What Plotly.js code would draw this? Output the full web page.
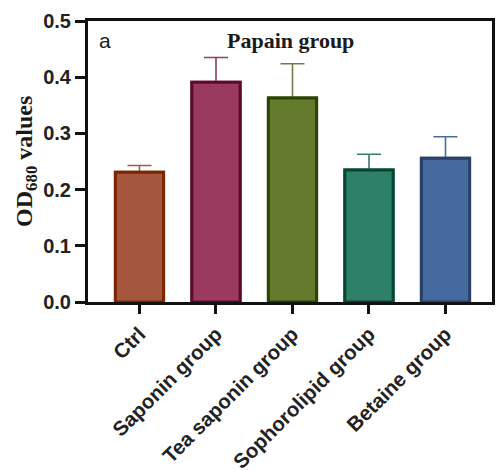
<!DOCTYPE html>
<html>
<head>
<meta charset="utf-8">
<script src="https://cdn.plot.ly/plotly-3.0.1.min.js"></script>
<style>html,body{margin:0;padding:0;background:#fff;}#chart{width:497px;height:471px;}</style>
</head>
<body>
<div id="chart"></div>
<script>
var categories = ["Ctrl", "Saponin group", "Tea saponin group", "Sophorolipid group", "Betaine group"];
var means = [0.231, 0.391, 0.363, 0.235, 0.256];
var errors = [0.012, 0.044, 0.061, 0.028, 0.038];
var fillColors = ["#A5573D", "#9B3A5F", "#647B2E", "#2E8068", "#456AA0"];
var lineColors = ["#7A2600", "#5C0A2E", "#2A4500", "#044733", "#2A4166"];
var errColors = ["#A0584A", "#8C4060", "#6D7D4A", "#3B7A6A", "#4A6C9A"];

var traces = [];
for (var i = 0; i < categories.length; i++) {
  traces.push({
    type: "bar",
    x: [categories[i]],
    y: [means[i]],
    width: 0.63,
    marker: {color: fillColors[i], line: {color: lineColors[i], width: 3}},
    error_y: {type: "data", symmetric: false, array: [errors[i]], arrayminus: [0], color: errColors[i], thickness: 1.6, width: 12},
    hoverinfo: "skip",
    showlegend: false
  });
}
traces.push({
  type: "bar",
  x: categories,
  y: means,
  width: 0.63,
  marker: {color: fillColors, line: {color: lineColors, width: 3}},
  hoverinfo: "skip",
  showlegend: false
});

var layout = {
  width: 497, height: 471,
  margin: {l: 88, r: 5, t: 21, b: 169},
  paper_bgcolor: "#fff", plot_bgcolor: "#fff",
  barmode: "overlay",
  showlegend: false,
  font: {family: "Liberation Sans, Arial, sans-serif", color: "#1a1a1a"},
  xaxis: {
    type: "category",
    categoryorder: "array", categoryarray: categories,
    range: [-0.673, 4.608],
    showline: true, linecolor: "#111", linewidth: 3, mirror: true,
    ticks: "outside", ticklen: 9, tickwidth: 3, tickcolor: "#111",
    tickangle: -45,
    tickfont: {size: 20.5, color: "#222", weight: "bold"},
    showgrid: false, zeroline: false, fixedrange: true
  },
  yaxis: {
    range: [0, 0.5],
    tickvals: [0, 0.1, 0.2, 0.3, 0.4, 0.5],
    ticktext: ["0.0", "0.1", "0.2", "0.3", "0.4", "0.5"],
    showline: true, linecolor: "#111", linewidth: 3, mirror: true,
    ticks: "outside", ticklen: 10, tickwidth: 3, tickcolor: "#111",
    tickfont: {size: 20, color: "#222", weight: "bold"},
    showgrid: false, zeroline: false, fixedrange: true
  },
  annotations: [
    {text: "OD<sub>680</sub> values", xref: "paper", yref: "paper", x: -0.155, y: 0.5,
     xanchor: "center", yanchor: "middle", textangle: -90, showarrow: false,
     font: {family: "Liberation Serif, Times New Roman, serif", size: 24, color: "#1a1a1a", weight: "bold"}},
    {text: "a", xref: "paper", yref: "paper", x: 0.022, y: 0.93,
     xanchor: "left", yanchor: "middle", showarrow: false,
     font: {size: 21, color: "#1a1a1a"}},
    {text: "<b>Papain group</b>", xref: "paper", yref: "paper", x: 0.502, y: 0.932,
     xanchor: "center", yanchor: "middle", showarrow: false,
     font: {family: "Liberation Serif, Times New Roman, serif", size: 22, color: "#1a1a1a"}}
  ]
};

Plotly.newPlot("chart", traces, layout, {displayModeBar: false, staticPlot: true});
</script>
</body>
</html>
